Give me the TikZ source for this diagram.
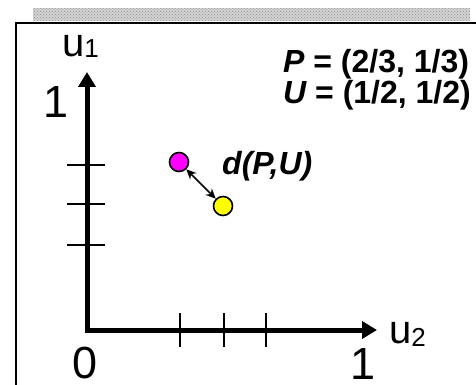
\documentclass[tikz,border=0pt]{standalone}
\usepackage{fontspec}
\setmainfont{Liberation Sans}
\usetikzlibrary{arrows.meta,patterns}
\definecolor{ptmag}{RGB}{255,0,255}
\definecolor{ptyel}{RGB}{255,255,0}
\begin{document}
\begin{tikzpicture}[x=1pt,y=-1pt,
  axisline/.style={line width=5pt, miter limit=10, {Triangle[length=15pt,width=17pt]}-{Triangle[length=15pt,width=17pt]}},
  tickline/.style={line width=2pt},
  pointdot/.style={circle, draw, line width=1.6pt, minimum size=19pt, inner sep=0pt},
  biglabel/.style={inner sep=0pt, font=\fontsize{45}{45}\selectfont},
  axlabel/.style={inner sep=0pt, anchor=base west, font=\fontsize{40}{40}\selectfont},
  boldlabel/.style={inner sep=0pt, font=\fontsize{32}{34}\selectfont\bfseries}
]
\useasboundingbox (0,0) rectangle (476,385);
% top band
\fill[gray!35] (33,8) rectangle (470,21);
\fill[pattern=crosshatch dots, pattern color=gray!85] (33,8) rectangle (470,21);
% frame
\draw[line width=2pt] (16,385) -- (16,23) -- (476,23);
% axes
\coordinate (ytip) at (87,72);
\coordinate (orig) at (87,330);
\coordinate (xtip) at (377,330);
\draw[axisline] (ytip) -- (orig) -- (xtip);
% ticks
\foreach \yy in {165,204,245} \draw[tickline] (67,\yy) -- (105,\yy);
\foreach \xx in {180,224,266} \draw[tickline] (\xx,313) -- (\xx,347);
% labels
\node[axlabel] (u1) at (62,57) {u\raisebox{-1pt}{\fontsize{26}{26}\selectfont 1}};
\node[axlabel] (u2) at (389,343) {u\raisebox{-3pt}{\fontsize{26}{26}\selectfont 2}};
\node[biglabel] (one1) at (56,102) {1};
\node[biglabel] (zero) at (85,363) {0};
\node[biglabel] (one2) at (363,364) {1};
% points
\node[pointdot, fill=ptmag] (P) at (179,162) {};
\node[pointdot, fill=ptyel] (U) at (223,206) {};
\draw[{Stealth[length=10pt,width=9pt]}-{Stealth[length=10pt,width=9pt]}, line width=1.5pt] (P) -- (U);
\node[boldlabel, anchor=west] (d) at (222,166) {\itshape d(P,U)};
\node[boldlabel, anchor=west] (Pl) at (283,64) {\itshape P\upshape{} = (2/3, 1/3)};
\node[boldlabel, anchor=west] (Ul) at (283,95) {\itshape U\upshape{} = (1/2, 1/2)};
\end{tikzpicture}
\end{document}
